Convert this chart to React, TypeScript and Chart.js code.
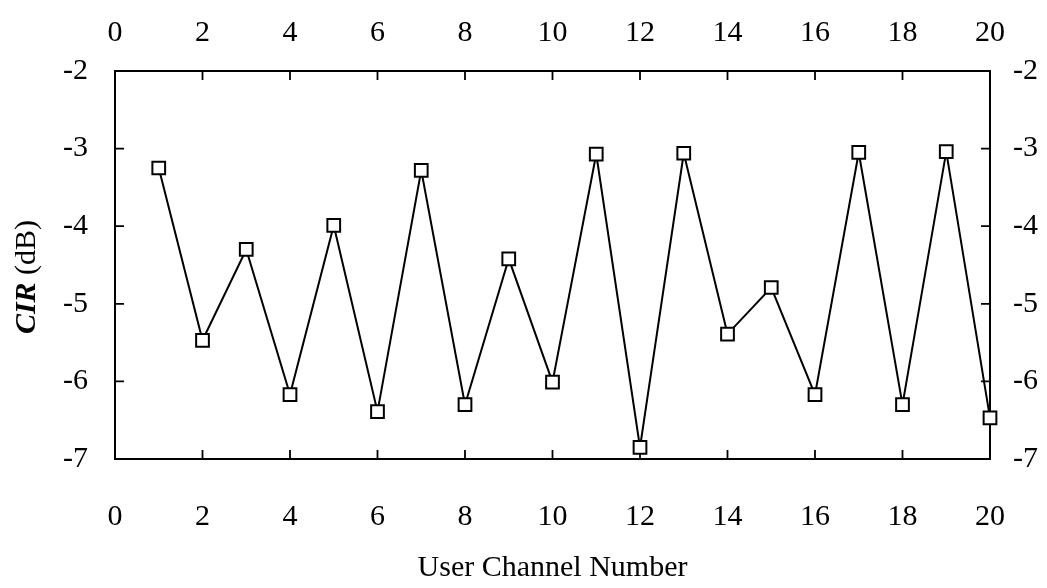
import React, { useEffect, useRef } from "react";
import { Chart, registerables } from "chart.js";

Chart.register(...registerables);

const channels = [1, 2, 3, 4, 5, 6, 7, 8, 9, 10, 11, 12, 13, 14, 15, 16, 17, 18, 19, 20];
const cirValues = [-3.25, -5.47, -4.3, -6.17, -3.99, -6.39, -3.28, -6.3, -4.42, -6.01, -3.07, -6.85, -3.06, -5.39, -4.79, -6.17, -3.05, -6.3, -3.04, -6.47];
const xTicks = [0, 2, 4, 6, 8, 10, 12, 14, 16, 18, 20];
const yTicks = [-7, -6, -5, -4, -3, -2];
const xTitle = "User Channel Number";
const yTitleBold = "CIR";
const yTitleRest = " (dB)";

const FONT = "'Liberation Serif', 'Times New Roman', serif";

const framePlugin = {
  id: "framePlugin",
  beforeDatasetsDraw(chart: any) {
    const { ctx, chartArea } = chart;
    const { left, right, top, bottom } = chartArea;
    ctx.save();
    ctx.strokeStyle = "#000";
    ctx.lineWidth = 2;
    ctx.strokeRect(left, top, right - left, bottom - top);
    ctx.lineWidth = 1.8;
    const tl = 9;
    const xs = chart.scales.x;
    const ys = chart.scales.y;
    const ys2 = chart.scales.y2;
    xTicks.forEach((v) => {
      const px = xs.getPixelForValue(v);
      ctx.beginPath();
      ctx.moveTo(px, bottom);
      ctx.lineTo(px, bottom - tl);
      ctx.moveTo(px, top);
      ctx.lineTo(px, top + tl);
      ctx.stroke();
    });
    yTicks.forEach((v) => {
      const py = ys.getPixelForValue(v);
      const py2 = ys2.getPixelForValue(v);
      ctx.beginPath();
      ctx.moveTo(left, py);
      ctx.lineTo(left + tl, py);
      ctx.moveTo(right, py2);
      ctx.lineTo(right - tl, py2);
      ctx.stroke();
    });
    ctx.restore();
  },
  afterDraw(chart: any) {
    const { ctx } = chart;
    ctx.save();
    ctx.translate(27, 277);
    ctx.rotate(-Math.PI / 2);
    ctx.fillStyle = "#000";
    ctx.textBaseline = "middle";
    const boldFont = `italic bold 30px ${FONT}`;
    const regFont = `30px ${FONT}`;
    ctx.font = boldFont;
    const w1 = ctx.measureText(yTitleBold).width;
    ctx.font = regFont;
    const w2 = ctx.measureText(yTitleRest).width;
    const start = -(w1 + w2) / 2;
    ctx.textAlign = "left";
    ctx.font = boldFont;
    ctx.fillText(yTitleBold, start, 0);
    ctx.font = regFont;
    ctx.fillText(yTitleRest, start + w1, 0);
    ctx.restore();
  },
};

export default function App() {
  const canvasRef = useRef<HTMLCanvasElement | null>(null);

  useEffect(() => {
    document.body.style.margin = "0";
    const canvas = canvasRef.current;
    if (!canvas) return;
    const tickFont = { family: FONT, size: 30 };
    const xCfg = {
      type: "linear",
      min: 0,
      max: 20,
      afterBuildTicks: (scale: any) => {
        scale.ticks = xTicks.map((v) => ({ value: v }));
      },
      grid: { display: false, drawTicks: false },
      border: { display: false },
    };
    const yCfg = {
      type: "linear",
      min: -7,
      max: -2,
      afterBuildTicks: (scale: any) => {
        scale.ticks = yTicks.map((v) => ({ value: v }));
      },
      grid: { display: false, drawTicks: false },
      border: { display: false },
    };
    const chart = new Chart(canvas, {
      type: "line",
      data: {
        datasets: [
          {
            data: channels.map((c, i) => ({ x: c, y: cirValues[i] })),
            borderColor: "#000",
            borderWidth: 2,
            pointStyle: "rect",
            pointRadius: 9,
            pointBackgroundColor: "#fff",
            pointBorderColor: "#000",
            pointBorderWidth: 2,
            tension: 0,
            clip: false,
            xAxisID: "x",
            yAxisID: "y",
          },
        ],
      },
      options: {
        animation: false,
        responsive: false,
        devicePixelRatio: 1,
        layout: { padding: 0 },
        plugins: { legend: { display: false }, tooltip: { enabled: false }, title: { display: false } },
        scales: {
          x: {
            ...xCfg,
            position: "bottom",
            ticks: { font: tickFont, color: "#000", padding: 40, maxRotation: 0 },
            title: { display: true, text: xTitle, font: { family: FONT, size: 30 }, color: "#000", padding: { top: 0, bottom: 2 } },
            afterFit: (s: any) => { s.height = 129; },
          },
          x2: {
            ...xCfg,
            position: "top",
            ticks: { font: tickFont, color: "#000", padding: 20, maxRotation: 0 },
            afterFit: (s: any) => { s.height = 71; },
          },
          y: {
            ...yCfg,
            position: "left",
            ticks: { font: tickFont, color: "#000", padding: 27 },
            afterFit: (s: any) => { s.width = 115; },
          },
          y2: {
            ...yCfg,
            position: "right",
            ticks: { font: tickFont, color: "#000", padding: 23 },
            afterFit: (s: any) => { s.width = 57; },
          },
        },
      } as any,
      plugins: [framePlugin],
    } as any);
    return () => chart.destroy();
  }, []);

  return (
    <div style={{ position: "absolute", left: 0, top: 0, width: 1047, height: 588, background: "#fff" }}>
      <canvas ref={canvasRef} width={1047} height={588} />
    </div>
  );
}
